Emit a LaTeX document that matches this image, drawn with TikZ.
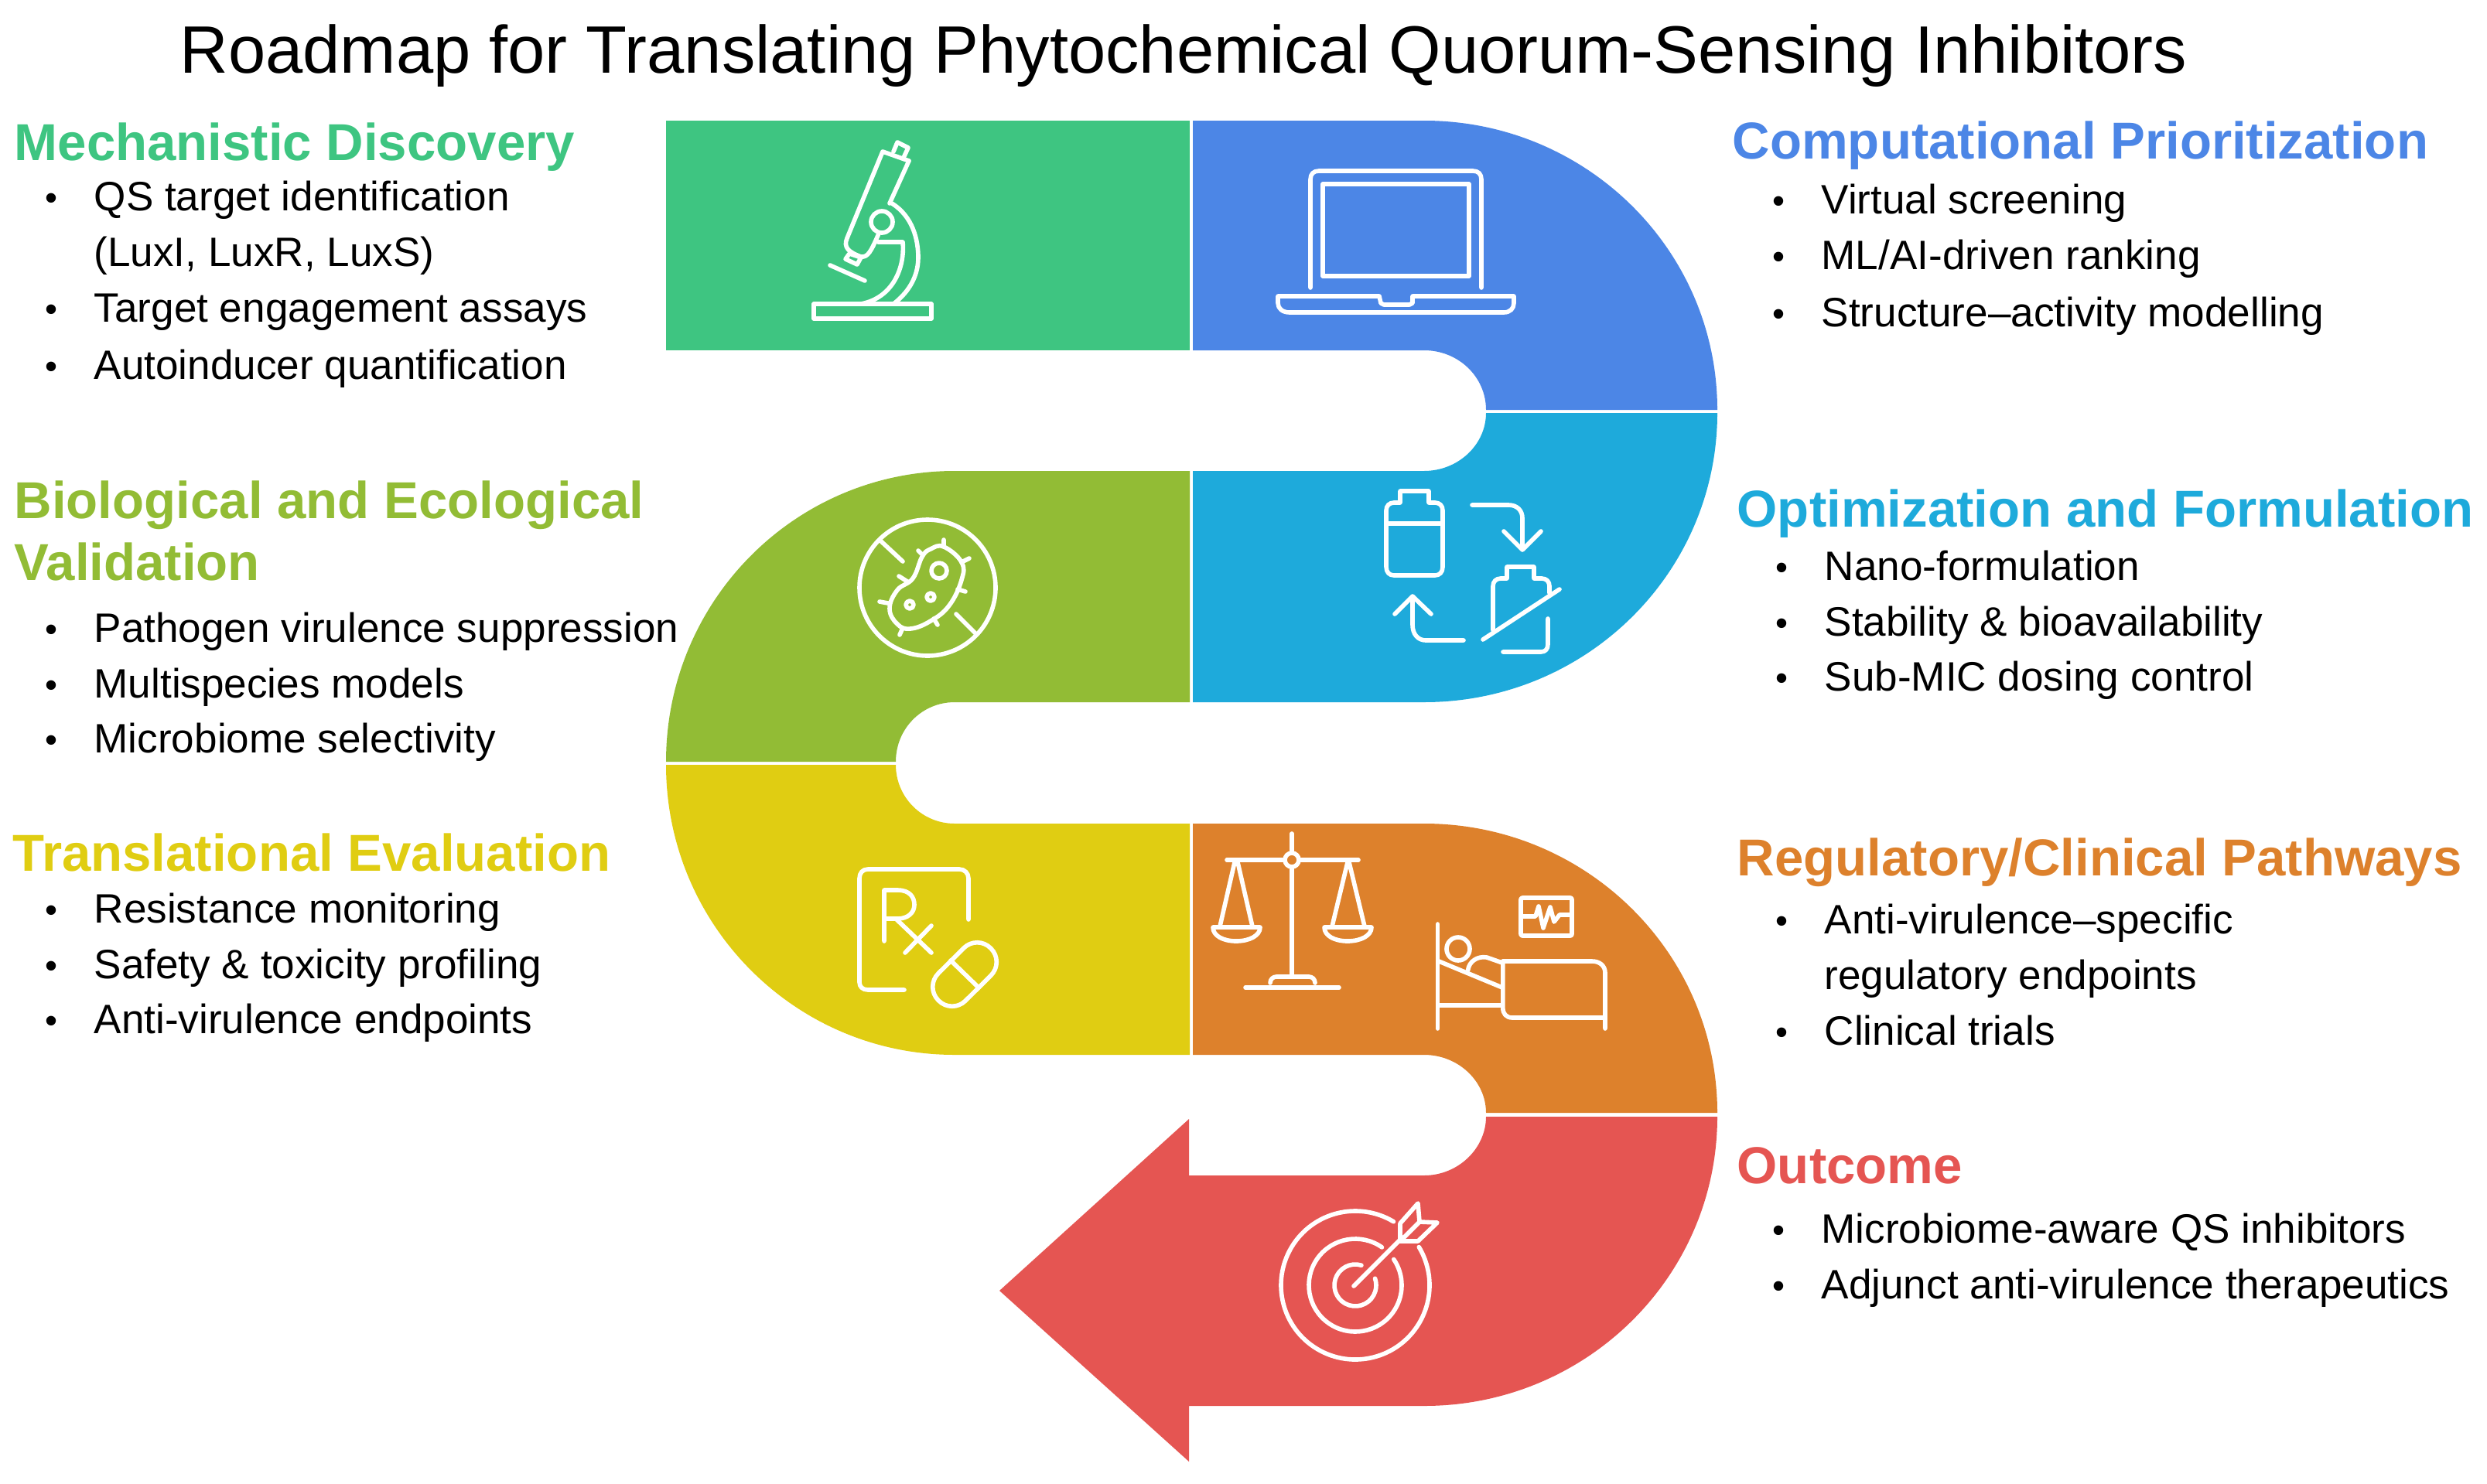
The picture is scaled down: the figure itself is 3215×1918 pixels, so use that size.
\documentclass[tikz,border=0pt]{standalone}
\usepackage{fontspec}
\setmainfont{Liberation Sans}
\definecolor{cgreen}{HTML}{3EC581}
\definecolor{cblue}{HTML}{4C86E6}
\definecolor{ccyan}{HTML}{1EAADB}
\definecolor{clime}{HTML}{92BC35}
\definecolor{cyell}{HTML}{E0CD12}
\definecolor{corange}{HTML}{DD812C}
\definecolor{cred}{HTML}{E55552}
\tikzset{
  titletext/.style={anchor=base west,inner sep=0pt,font=\fontsize{24.66}{24.66}\selectfont,text=black},
  headtext/.style={anchor=base west,inner sep=0pt,font=\bfseries\fontsize{19.1}{19.1}\selectfont},
  bodytext/.style={anchor=base west,inner sep=0pt,font=\fontsize{15.1}{15.1}\selectfont,text=black},
  bullettext/.style={anchor=base west,inner sep=0pt,font=\fontsize{13}{13}\selectfont,text=black},
  icon/.style={draw=white,line width=1.6pt,line cap=round,line join=round,fill=none}
}
\newcommand{\bl}[4]{%
  \node[bullettext] (#1b) at (#2-63,#3+17) {•};
  \node[bodytext] (#1) at (#2,#3+18) {#4};}
\newcommand{\cl}[4]{\node[bodytext] (#1) at (#2,#3+18) {#4};}
\newcommand{\hd}[5]{\node[headtext,text=#5] (#1) at (#2,#3+23) {#4};}
\begin{document}
\begin{tikzpicture}[x=0.01cm,y=-0.01cm]
\useasboundingbox (0,0) rectangle (3215,1918);
\fill[white] (0,0) rectangle (3215,1918);
% ribbon
\fill[cgreen] (861,156) rectangle (1538,453);
\fill[cblue] (1542,156)--(1841,156)..controls (2050,156) and (2220,323)..(2220,530)--(1921,530)..controls (1921,487) and (1885,453)..(1841,453)--(1542,453)--cycle;
\fill[ccyan] (1542,609)--(1841,609)..controls (1885,609) and (1921,575)..(1921,534)--(2220,534)..controls (2220,741) and (2050,908)..(1841,908)--(1542,908)--cycle;
\fill[clime] (1538,609)--(1234,609)..controls (1028,609) and (861,777)..(861,985)--(1158,985)..controls (1158,942) and (1192,908)..(1234,908)--(1538,908)--cycle;
\fill[cyell] (861,989)..controls (861,1196) and (1028,1364)..(1234,1364)--(1538,1364)--(1538,1065)--(1234,1065)..controls (1192,1065) and (1158,1031)..(1158,989)--cycle;
\fill[corange] (1542,1065)--(1841,1065)..controls (2050,1065) and (2220,1232)..(2220,1439)--(1921,1439)..controls (1921,1398) and (1885,1364)..(1841,1364)--(1542,1364)--cycle;
\fill[cred] (2220,1444)..controls (2220,1651) and (2050,1818)..(1841,1818)--(1537,1818)--(1537,1890)--(1292,1669)--(1537,1447)--(1537,1520)--(1841,1520)..controls (1885,1520) and (1921,1485)..(1921,1444)--cycle;
% microscope
\draw[icon] (1052,393) rectangle (1204,412);
\draw[icon] (1073,343)--(1118,363);
\draw[icon] (1093,335)--(1098,328)--(1113,333)--(1108,342)--cycle;
\draw[icon] (1175,208)--(1141,196)--(1095,308)..controls (1090,320) and (1097,326)..(1113,332)..controls (1122,333) and (1126,325)..(1136,302);
\draw[icon] (1150,263)--(1175,208);
\draw[icon] (1155,196)--(1160,184)--(1174,191)--(1168,204);
\draw[icon] (1140,287) circle[radius=14];
\draw[icon] (1153,263)..controls (1180,280) and (1187,310)..(1187,333)..controls (1187,360) and (1172,380)..(1155,393);
\draw[icon] (1135,313)--(1167,313)..controls (1170,345) and (1155,385)..(1113,393);
% laptop
\draw[icon] (1694,372)--(1694,232)..controls (1694,225) and (1698,221)..(1705,221)--(1904,221)..controls (1911,221) and (1915,225)..(1915,232)--(1915,372);
\draw[icon] (1710,238) rectangle (1899,357);
\draw[icon] (1652,383)--(1783,383)--(1785,392)--(1789,394)--(1822,394)--(1826,392)--(1826,383)--(1957,383)--(1957,392)..controls (1957,399) and (1952,404)..(1944,404)--(1667,404)..controls (1658,404) and (1652,399)..(1652,392)--cycle;
% bacterium
\draw[icon] (1199,760) circle[radius=88];
\draw[icon] (1139,700)--(1167,726) (1236,794)--(1262,820);
\draw[icon] plot[smooth cycle,tension=0.7] coordinates {(1220,707)(1243,727)(1243,750)(1227,783)(1203,803)(1177,813)(1160,807)(1150,787)(1160,763)(1180,748)(1192,720)(1203,710)};
\draw[icon] (1214,738) circle[radius=10] (1203,772) circle[radius=5] (1176,782) circle[radius=5];
\draw[icon] (1220,698)--(1220,707) (1243,727)--(1253,722) (1238,762)--(1248,765) (1207,800)--(1212,808) (1167,812)--(1163,821) (1148,780)--(1137,778) (1173,752)--(1162,745) (1193,718)--(1187,712);
% bottles
\draw[icon] (1810,650)--(1810,635)--(1847,635)--(1847,650)--(1855,650)..controls (1861,650) and (1865,654)..(1865,660)--(1865,733)..controls (1865,740) and (1861,744)..(1855,744)--(1802,744)..controls (1796,744) and (1792,740)..(1792,733)--(1792,660)..controls (1792,654) and (1796,650)..(1802,650)--cycle;
\draw[icon] (1792,677)--(1865,677);
\draw[icon] (1903,653)--(1950,653)..controls (1961,653) and (1968,660)..(1968,670)--(1968,710);
\draw[icon] (1944,687)--(1968,711)--(1992,687);
\draw[icon] (1930,815)--(1930,758)..controls (1930,752) and (1934,748)..(1940,748)--(1948,748)--(1948,733)--(1983,733)--(1983,748)--(1993,748)..controls (1999,748) and (2003,752)..(2003,758)--(2003,767);
\draw[icon] (1917,827)--(2016,762);
\draw[icon] (2001,800)--(2001,833)..controls (2001,839) and (1998,843)..(1992,843)--(1943,843);
\draw[icon] (1892,828)--(1843,828)..controls (1833,828) and (1826,820)..(1826,808)--(1826,772);
\draw[icon] (1803,794)--(1826,771)--(1850,794);
% Rx and pill
\draw[icon] (1252,1189)--(1252,1136)..controls (1252,1129) and (1247,1124)..(1240,1124)--(1122,1124)..controls (1115,1124) and (1111,1129)..(1111,1136)--(1111,1270)..controls (1111,1276) and (1115,1280)..(1122,1280)--(1169,1280);
\draw[icon] (1143,1217)--(1143,1151)--(1160,1151)..controls (1176,1151) and (1182,1160)..(1182,1170)..controls (1182,1180) and (1174,1188)..(1160,1188)--(1143,1188);
\draw[icon] (1158,1188)--(1204,1232) (1204,1197)--(1170,1232);
\draw[icon,rounded corners=0.245cm] (1298.4,1244)--(1263.3,1208.6)--(1195.6,1276)--(1230.7,1311.4)--cycle;
\draw[icon] (1229,1242)--(1265,1277);
% scales
\draw[icon] (1670,1078)--(1670,1103) (1670,1121)--(1670,1262);
\draw[icon] (1586,1112)--(1661,1112) (1679,1112)--(1756,1112);
\draw[icon] (1670,1112) circle[radius=9];
\draw[icon] (1596,1115)--(1577,1198) (1600,1115)--(1619,1198);
\draw[icon] (1742,1115)--(1722,1198) (1744,1115)--(1764,1198);
\draw[icon] (1568,1199)--(1629,1199)..controls (1629,1210) and (1615,1217)..(1598,1217)..controls (1581,1217) and (1568,1210)..(1568,1199)--cycle;
\draw[icon] (1712,1199)--(1773,1199)..controls (1773,1210) and (1759,1217)..(1742,1217)..controls (1725,1217) and (1712,1210)..(1712,1199)--cycle;
\draw[icon] (1610,1277)--(1731,1277);
\draw[icon] (1642,1271)..controls (1642,1266) and (1646,1263)..(1650,1263)--(1692,1263)..controls (1696,1263) and (1700,1266)..(1700,1271);
% bed
\draw[icon] (1858.5,1195)--(1858.5,1330);
\draw[icon] (1860,1243)--(1942,1277);
\draw[icon] (1885,1227) circle[radius=15];
\draw[icon] (1897.5,1255)..controls (1899,1243) and (1910,1236)..(1922,1238)--(1942,1245);
\draw[icon] (1942.8,1243)--(2058,1243)..controls (2068,1243) and (2075,1249)..(2075,1258)--(2075,1330);
\draw[icon] (1942.8,1243)--(1942.8,1303)..controls (1942.8,1311) and (1947,1316)..(1955,1316)--(2075,1316);
\draw[icon] (1860,1300)--(1942,1300);
\draw[icon,rounded corners=0.02cm] (1966,1161) rectangle (2032,1210);
\draw[icon] (1968,1185)--(1985,1185)--(1989,1172)--(1995,1200)--(2004,1173)--(2009,1192)--(2016,1183)--(2030,1183);
% target
\draw[icon] ([shift={(1752,1662)}]-59:96) arc[start angle=-59,end angle=-391,radius=96];
\draw[icon] ([shift={(1752,1662)}]-55:60) arc[start angle=-55,end angle=-394,radius=60];
\draw[icon] ([shift={(1752,1662)}]-73:27) arc[start angle=-73,end angle=-379,radius=27];
\draw[icon] (1750,1663)--(1813,1600);
\draw[icon] (1810,1605)--(1810,1582)--(1833,1556)--(1835,1580)--(1858,1581)--(1833,1605)--cycle;
\draw[icon] (1810,1605)--(1835,1580);
% texts
\node[titletext] (title) at (232,94) {Roadmap for Translating Phytochemical Quorum-Sensing Inhibitors};
\hd{h1}{18}{184}{Mechanistic Discovery}{cgreen}
\bl{a1}{121}{254}{QS target identification}
\cl{a2}{121}{326}{(LuxI, LuxR, LuxS)}
\bl{a3}{121}{398}{Target engagement assays}
\bl{a4}{121}{472}{Autoinducer quantification}
\hd{h2}{18}{647}{Biological and Ecological}{clime}
\hd{h2b}{18}{727}{Validation}{clime}
\bl{b1}{121}{812}{Pathogen virulence suppression}
\bl{b2}{121}{884}{Multispecies models}
\bl{b3}{121}{955}{Microbiome selectivity}
\hd{h3}{16}{1103}{Translational Evaluation}{cyell}
\bl{c1}{121}{1175}{Resistance monitoring}
\bl{c2}{121}{1247}{Safety \& toxicity profiling}
\bl{c3}{121}{1318}{Anti-virulence endpoints}
\hd{h4}{2239}{182}{Computational Prioritization}{cblue}
\bl{d1}{2354}{258}{Virtual screening}
\bl{d2}{2354}{330}{ML/AI-driven ranking}
\bl{d3}{2354}{404}{Structure–activity modelling}
\hd{h5}{2245}{658}{Optimization and Formulation}{ccyan}
\bl{e1}{2358}{732}{Nano-formulation}
\bl{e2}{2358}{804}{Stability \& bioavailability}
\bl{e3}{2358}{875}{Sub-MIC dosing control}
\hd{h6}{2245}{1109}{Regulatory/Clinical Pathways}{corange}
\bl{f1}{2358}{1189}{Anti-virulence–specific}
\cl{f2}{2358}{1261}{regulatory endpoints}
\bl{f3}{2358}{1333}{Clinical trials}
\hd{h7}{2245}{1507}{Outcome}{cred}
\bl{g1}{2354}{1589}{Microbiome-aware QS inhibitors}
\bl{g2}{2354}{1661}{Adjunct anti-virulence therapeutics}
\end{tikzpicture}
\end{document}
